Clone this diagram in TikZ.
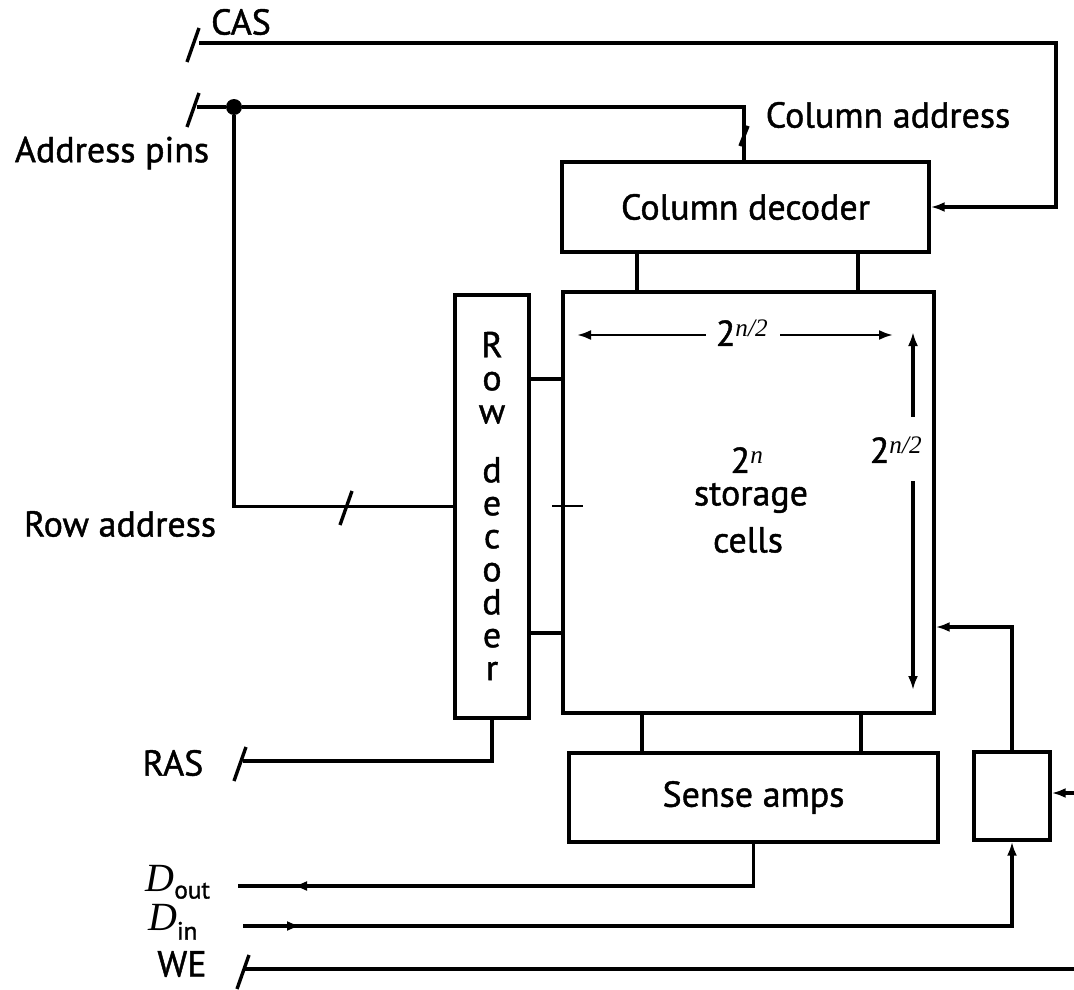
\documentclass[tikz,border=0pt]{standalone}
\usepackage{fontspec}
\setmainfont{PT Sans}[AutoFakeBold=1.2]
\newfontfamily\serifit{Liberation Serif}
\usetikzlibrary{arrows.meta,decorations.markings,calc}
\tikzset{
  >={Latex[length=14pt,width=10pt]},
  wire/.style={line width=3.4pt},
  dimline/.style={line width=2.5pt},
  box/.style={draw, line width=3.4pt, inner sep=0pt},
  lbl/.style={font=\fontsize{36}{42}\selectfont\bfseries, inner sep=0pt},
  junction/.style={circle, fill=black, inner sep=0pt, minimum size=16pt},
  arrowbefore/.style={postaction={decorate}, decoration={markings,
      mark=at position #1 with {\arrow{Latex[length=14pt,width=10pt]}}}},
}
\newcommand{\busslash}[1]{\draw[wire] ($(#1)+(-6,17)$) -- ($(#1)+(6,-17)$);}
\begin{document}
\begin{tikzpicture}[x=1pt,y=-1pt]
\useasboundingbox (0,0) rectangle (1074,990);

% main blocks
\node[box, lbl, minimum width=367pt, minimum height=90pt] (cd) at (745.5,207) {Column decoder};
\node[box, minimum width=371pt, minimum height=421pt] (arr) at (748.5,502.5) {};
\node[box, minimum width=74pt, minimum height=423pt] (rd) at (492,506.5) {};
\node[lbl, align=center, font=\fontsize{36}{33}\selectfont\bfseries] (rdt) at (492,506) {R\\o\\w\\[26pt]d\\e\\c\\o\\d\\e\\r};
\node[box, lbl, minimum width=369pt, minimum height=89pt] (sa) at (753.5,797.5) {Sense amps};
\node[box, minimum width=76pt, minimum height=88pt] (sb) at (1012,796) {};

% array texts
\node[lbl] (twon) at (747,460) {2\textsuperscript{\serifit\mdseries\itshape n}};
\node[lbl] (stor) at (751,498) {storage};
\node[lbl] (cells) at (748,540) {cells};
\node[lbl] (hdim) at (742,333) {2\textsuperscript{\serifit\mdseries\itshape n/2}};
\node[lbl] (vdim) at (896,450) {2\textsuperscript{\serifit\mdseries\itshape n/2}};

% labels
\node[lbl] (cas) at (241,22) {CAS};
\node[lbl] (apins) at (112,153) {Address pins};
\node[lbl] (colad) at (888,115) {Column address};
\node[lbl] (rowad) at (120,524) {Row address};
\node[lbl] (ras) at (173,763) {RAS};
\node[lbl] (dout) at (178,882) {{\serifit\mdseries\itshape\fontsize{40}{40}\selectfont D}\textsubscript{out}};
\node[lbl] (din) at (173,922) {{\serifit\mdseries\itshape\fontsize{40}{40}\selectfont D}\textsubscript{in}};
\node[lbl] (we) at (182,964) {WE};

% CAS
\coordinate (casStart) at (199,43);
\coordinate (casTurn) at (1056,43);
\draw[wire,->] (casStart) -- (casTurn) |- (cd.east);
\coordinate (casSl) at (193,45);
\busslash{casSl}

% Address pins
\coordinate (adStart) at (197,107);
\node[junction] (junc) at (234,107) {};
\coordinate (adSl) at (193,110);
\busslash{adSl}
\draw[wire] (adStart) -- (junc);
\coordinate (colTurn) at (744,107);
\draw[wire] (junc) -- (colTurn) -- (colTurn |- cd.north);
\coordinate (colSl) at (744,136);
\draw[wire] ($(colSl)+(-4,10)$) -- ($(colSl)+(4,-10)$);
\draw[wire] (junc) |- (rd.west);
\coordinate (rowSl) at (346,508);
\busslash{rowSl}

% column decoder to array
\coordinate (c1) at (637,252);
\coordinate (c2) at (858,252);
\draw[wire] (c1) -- (c1 |- arr.north);
\draw[wire] (c2) -- (c2 |- arr.north);

% row decoder to array
\coordinate (r1) at (529,379);
\coordinate (r2) at (529,633);
\draw[wire] (r1) -- (r1 -| arr.west);
\draw[wire] (r2) -- (r2 -| arr.west);
\coordinate (tk) at (563,506);
\draw[line width=2pt] ($(tk)+(-11,0)$) -- ($(tk)+(20,0)$);

% dimension arrows
\coordinate (hl) at (577,335);
\coordinate (hr) at (893,335);
\draw[dimline,->] ($(hdim.west)+(-10,2)$) -- (hl);
\draw[dimline,->] ($(hdim.east)+(12,2)$) -- (hr);
\coordinate (vt) at (913,332);
\coordinate (vb) at (913,690);
\draw[wire,->] ($(vdim.north)+(17,-20)$) -- (vt);
\draw[wire,->] ($(vdim.south)+(17,18)$) -- (vb);

% array to sense amps
\coordinate (s1) at (642,713);
\coordinate (s2) at (861,713);
\draw[wire] (s1) -- (s1 |- sa.north);
\draw[wire] (s2) -- (s2 |- sa.north);

% small box
\coordinate (fb) at (1012,627);
\draw[wire,->] (sb.north) -- (fb) -- (fb -| arr.east);
\coordinate (sbin) at (1074,793);
\draw[wire,->] (sbin) -- (sbin -| sb.east);

% RAS
\coordinate (rasStart) at (243,761);
\draw[wire] (rasStart) -| (rd.south);
\coordinate (rasSl) at (240,764);
\busslash{rasSl}

% Dout / Din
\coordinate (doutEnd) at (238,886);
\draw[wire, arrowbefore=-55pt] (sa.south) |- (doutEnd);
\coordinate (dinStart) at (243,926);
\draw[wire, ->, arrowbefore=58pt] (dinStart) -| (sb.south);

% WE
\coordinate (weStart) at (243,969);
\coordinate (weEnd) at (1074,969);
\draw[wire] (weStart) -- (weEnd);
\coordinate (weSl) at (243,972);
\busslash{weSl}
\end{tikzpicture}
\end{document}
